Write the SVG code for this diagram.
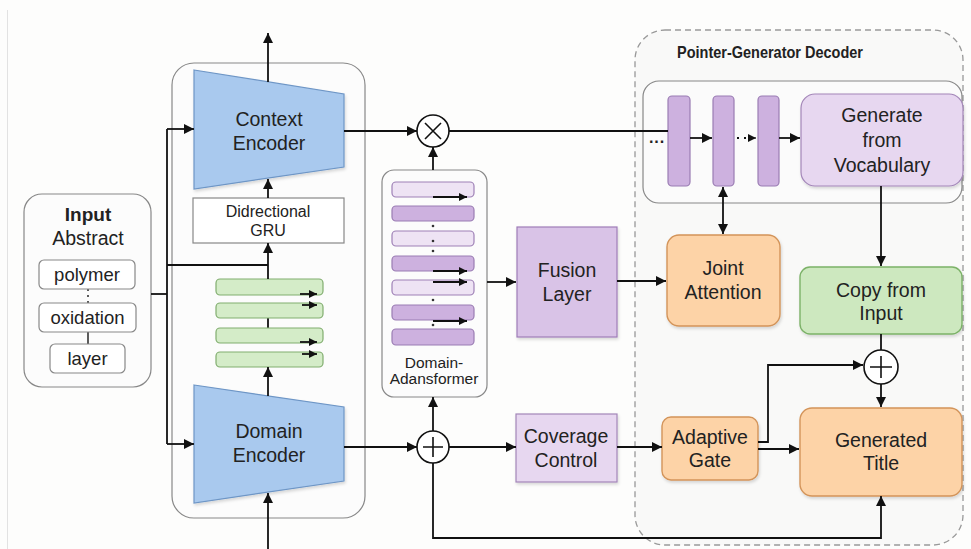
<svg xmlns="http://www.w3.org/2000/svg" width="971" height="549" viewBox="0 0 971 549">
  <defs>
    <marker id="arr" viewBox="0 0 10 10" refX="10" refY="5" markerWidth="10" markerHeight="10" markerUnits="userSpaceOnUse" orient="auto-start-reverse">
      <path d="M0,0 L10,5 L0,10 z" fill="#111"/>
    </marker>
    <marker id="arrSmall" viewBox="0 0 10 10" refX="10" refY="5" markerWidth="8" markerHeight="8" markerUnits="userSpaceOnUse" orient="auto">
      <path d="M0,0 L10,5 L0,10 z" fill="#111"/>
    </marker>
    <filter id="shadow" x="-10%" y="-10%" width="130%" height="130%">
      <feDropShadow dx="1" dy="2" stdDeviation="1.5" flood-color="#000" flood-opacity="0.15"/>
    </filter>
  </defs>
  <style>
    text { font-family: "Liberation Sans", Arial, Helvetica, sans-serif; fill: #222; text-anchor: middle; }
    .lbl { font-size: 19.5px; }
    .sm { font-size: 16px; }
    .xs { font-size: 15.5px; }
    .bold { font-weight: bold; }
    .wire { fill: none; stroke: #111; stroke-width: 1.8; }
    .arrow { fill: none; stroke: #111; stroke-width: 1.8; marker-end: url(#arr); }
    .container { fill: #fcfcfc; stroke: #888; stroke-width: 1.2; }
    .blue { fill: #a9c9ee; stroke: #6e96c6; stroke-width: 1.2; }
    .greenbar { fill: #d4ecc8; stroke: #80ad6e; stroke-width: 1.2; }
    .plight { fill: #eee3f4; stroke: #9e80b6; stroke-width: 1.2; }
    .pdark { fill: #cdb1df; stroke: #9a7cb3; stroke-width: 1.2; }
    .purple { fill: #d9c3e7; stroke: #9f7db8; stroke-width: 1.2; }
    .lavender { fill: #e7d7f0; stroke: #a386b8; stroke-width: 1.2; }
    .orange { fill: #fdd3a7; stroke: #d3945a; stroke-width: 1.4; }
    .green { fill: #cde8bf; stroke: #7cb268; stroke-width: 1.4; }
    .white { fill: #ffffff; stroke: #888; stroke-width: 1.2; }
    .op { fill: #fff; stroke: #111; stroke-width: 1.6; }
  </style>

  <!-- page background -->
  <rect x="0" y="0" width="971" height="549" fill="#fdfdfc"/>
  <line x1="7.5" y1="10" x2="7.5" y2="549" stroke="#e2e2e2" stroke-width="1"/>

  <!-- decoder frame -->
  <g id="decoder-frame">
    <rect x="635" y="30" width="328" height="515" rx="30" fill="#f9f9f8" stroke="#999" stroke-width="1.3" stroke-dasharray="6,4"/>
    <text x="770" y="58" class="bold" font-size="16.5" textLength="186" lengthAdjust="spacingAndGlyphs">Pointer-Generator Decoder</text>
  </g>

  <!-- encoder frame -->
  <g id="encoder-frame">
    <rect x="172" y="63" width="193" height="455" rx="22" class="container"/>
  </g>

  <!-- input -->
  <g id="input">
    <rect x="24" y="194" width="127" height="193" rx="18" class="container" fill="#fff"/>
    <text x="88" y="221" class="bold" font-size="19">Input</text>
    <text x="88" y="245" class="lbl" font-size="19.5">Abstract</text>
    <line x1="88" y1="289" x2="88" y2="303" stroke="#333" stroke-width="1.6" stroke-dasharray="2,4"/>
    <line x1="88" y1="332" x2="88" y2="344" stroke="#333" stroke-width="1.6"/>
    <rect x="39" y="260" width="96" height="29" rx="5" class="white"/>
    <text x="87" y="281" font-size="18.5">polymer</text>
    <rect x="39" y="303" width="97" height="29" rx="5" class="white"/>
    <text x="87.5" y="324" font-size="18.5">oxidation</text>
    <rect x="50" y="344" width="75" height="29" rx="5" class="white"/>
    <text x="87.5" y="365" font-size="18.5">layer</text>
  </g>

  <!-- context encoder -->
  <g id="context-encoder">
    <polygon points="194,70 344,94 344,167 194,189" class="blue" filter="url(#shadow)"/>
    <text x="269" y="126" class="lbl">Context</text>
    <text x="269" y="150" class="lbl">Encoder</text>
  </g>

  <!-- bidirectional GRU -->
  <g id="gru">
    <rect x="193" y="198" width="151" height="45" class="white"/>
    <text x="268" y="217" class="sm">Didrectional</text>
    <text x="268" y="236" class="sm">GRU</text>
  </g>

  <!-- green recurrent stack -->
  <g id="gru-stack">
    <line x1="268" y1="318" x2="268" y2="328" class="wire"/>
    <rect x="216" y="279" width="107" height="16" rx="4" class="greenbar"/>
    <rect x="216" y="303" width="107" height="15" rx="4" class="greenbar"/>
    <rect x="216" y="328" width="107" height="15" rx="4" class="greenbar"/>
    <rect x="216" y="352" width="107" height="15" rx="4" class="greenbar"/>
    <line x1="300" y1="294" x2="317" y2="294" class="wire" stroke-width="1.3" marker-end="url(#arrSmall)"/>
    <line x1="302" y1="305" x2="317" y2="305" class="wire" stroke-width="1.3" marker-end="url(#arrSmall)"/>
    <line x1="300" y1="342" x2="317" y2="342" class="wire" stroke-width="1.3" marker-end="url(#arrSmall)"/>
    <line x1="302" y1="354" x2="317" y2="354" class="wire" stroke-width="1.3" marker-end="url(#arrSmall)"/>
  </g>

  <!-- domain encoder -->
  <g id="domain-encoder">
    <polygon points="194,385 344,407 344,481 194,503" class="blue" filter="url(#shadow)"/>
    <text x="269" y="438" class="lbl">Domain</text>
    <text x="269" y="462" class="lbl">Encoder</text>
  </g>

  <!-- domain adapter stack -->
  <g id="domain-adansformer">
    <rect x="382" y="170" width="105" height="227" rx="12" class="container" fill="#fff"/>
    <rect x="392" y="182" width="82" height="15" rx="4" class="plight"/>
    <rect x="392" y="206" width="82" height="15" rx="4" class="pdark"/>
    <rect x="392" y="231" width="82" height="15" rx="4" class="plight"/>
    <rect x="392" y="256" width="82" height="15" rx="4" class="pdark"/>
    <rect x="392" y="280" width="82" height="15" rx="4" class="plight"/>
    <rect x="392" y="305" width="82" height="15" rx="4" class="pdark"/>
    <rect x="392" y="329" width="82" height="16" rx="4" class="pdark"/>
    <line x1="433" y1="197" x2="467" y2="197" class="wire" stroke-width="1.3" marker-end="url(#arrSmall)"/>
    <line x1="433" y1="271" x2="467" y2="271" class="wire" stroke-width="1.3" marker-end="url(#arrSmall)"/>
    <line x1="433" y1="282" x2="467" y2="282" class="wire" stroke-width="1.3" marker-end="url(#arrSmall)"/>
    <line x1="433" y1="321" x2="467" y2="321" class="wire" stroke-width="1.3" marker-end="url(#arrSmall)"/>
    <g fill="#333">
      <circle cx="433" cy="226" r="1.3"/>
      <circle cx="433" cy="241" r="1.3"/>
      <circle cx="433" cy="251" r="1.3"/>
      <circle cx="433" cy="300" r="1.3"/>
      <circle cx="433" cy="325" r="1.3"/>
    </g>
    <text x="434" y="368" class="xs">Domain-</text>
    <text x="434" y="384" class="xs">Adansformer</text>
  </g>

  <!-- fusion layer -->
  <g id="fusion-layer">
    <rect x="517" y="227" width="100" height="110" class="purple" filter="url(#shadow)"/>
    <text x="567" y="277" class="lbl">Fusion</text>
    <text x="567" y="301" class="lbl">Layer</text>
  </g>

  <!-- coverage control -->
  <g id="coverage-control">
    <rect x="516" y="414" width="101" height="68" class="lavender" filter="url(#shadow)"/>
    <text x="566" y="443" class="lbl">Coverage</text>
    <text x="566" y="467" class="lbl">Control</text>
  </g>

  <!-- decoder state chain -->
  <g id="decoder-chain">
    <rect x="643" y="81" width="319" height="122" rx="16" fill="#fbfbfb" stroke="#888" stroke-width="1.2"/>
    <text x="657" y="147" font-size="16" font-weight="bold">···</text>
    <rect x="668" y="96" width="22" height="90" rx="4" class="pdark"/>
    <rect x="713" y="96" width="21" height="90" rx="4" class="pdark"/>
    <rect x="758" y="96" width="21" height="90" rx="4" class="pdark"/>
  </g>

  <!-- generate from vocabulary -->
  <g id="generate-vocab">
    <rect x="801" y="94" width="162" height="92" rx="14" class="lavender" filter="url(#shadow)"/>
    <text x="882" y="122" class="lbl">Generate</text>
    <text x="882" y="147" class="lbl">from</text>
    <text x="882" y="172" class="lbl">Vocabulary</text>
  </g>

  <!-- joint attention -->
  <g id="joint-attention">
    <rect x="667" y="235" width="113" height="91" rx="12" class="orange" filter="url(#shadow)"/>
    <text x="723" y="275" class="lbl">Joint</text>
    <text x="723" y="299" class="lbl">Attention</text>
  </g>

  <!-- copy from input -->
  <g id="copy-input">
    <rect x="800" y="267" width="162" height="67" rx="10" class="green" filter="url(#shadow)"/>
    <text x="881" y="297" class="lbl">Copy from</text>
    <text x="881" y="320" class="lbl">Input</text>
  </g>

  <!-- adaptive gate -->
  <g id="adaptive-gate">
    <rect x="662" y="417" width="96" height="63" rx="9" class="orange" filter="url(#shadow)"/>
    <text x="710" y="444" class="lbl">Adaptive</text>
    <text x="710" y="467" class="lbl">Gate</text>
  </g>

  <!-- generated title -->
  <g id="generated-title">
    <rect x="800" y="408" width="162" height="88" rx="12" class="orange" filter="url(#shadow)"/>
    <text x="881" y="447" class="lbl">Generated</text>
    <text x="881" y="470" class="lbl">Title</text>
  </g>

  <!-- operators -->
  <g id="op-multiply">
    <circle cx="433" cy="131" r="16" class="op"/>
    <path d="M425,123 L441,139 M441,123 L425,139" stroke="#111" stroke-width="1.6"/>
  </g>
  <g id="op-add-domain">
    <circle cx="433" cy="447" r="16" class="op"/>
    <path d="M433,437 V457 M423,447 H443" stroke="#111" stroke-width="1.6"/>
  </g>
  <g id="op-add-output">
    <circle cx="881" cy="367" r="17" class="op"/>
    <path d="M881,356 V378 M870,367 H892" stroke="#111" stroke-width="1.6"/>
  </g>

  <!-- connectors -->
  <g id="connectors">
    <!-- input fan-out -->
    <path d="M151,294 H167" class="wire"/>
    <path d="M167,129 V444" class="wire"/>
    <path d="M167,129 H194" class="arrow"/>
    <path d="M167,444 H194" class="arrow"/>
    <path d="M167,265 H268" class="wire"/>
    <path d="M268,265 V243" class="arrow"/>
    <path d="M268,265 V279" class="wire"/>
    <!-- encoder column -->
    <path d="M268,198 V179" class="arrow"/>
    <path d="M268,82 V33" class="arrow"/>
    <path d="M268,396 V367" class="arrow"/>
    <path d="M268,549 V493" class="arrow"/>
    <!-- context path -->
    <path d="M344,131 H417" class="arrow"/>
    <path d="M449,131 H668" class="wire"/>
    <path d="M433,170 V147" class="arrow"/>
    <!-- domain path -->
    <path d="M344,447 H417" class="arrow"/>
    <path d="M433,431 V397" class="arrow"/>
    <path d="M449,447 H516" class="arrow"/>
    <path d="M433,463 V538 H881 V496" class="arrow"/>
    <path d="M617,447 H662" class="arrow"/>
    <!-- fusion path -->
    <path d="M487,282 H516" class="arrow"/>
    <path d="M617,281 H666" class="arrow"/>
    <!-- decoder -->
    <path d="M723,234 V187" class="arrow" marker-start="url(#arr)"/>
    <path d="M690,138 H712" class="arrow"/>
    <path d="M737,138 H752" stroke="#111" stroke-width="1.8" stroke-dasharray="2,5" fill="none"/>
    <path d="M749,138 H756" stroke="#111" stroke-width="1.2" marker-end="url(#arrSmall)"/>
    <path d="M779,138 H800" class="arrow"/>
    <path d="M881,186 V266" class="arrow"/>
    <path d="M881,334 V350" class="wire"/>
    <path d="M881,384 V407" class="arrow"/>
    <path d="M758,442 H768 V365 H863" class="arrow"/>
    <path d="M758,449 H799" class="arrow"/>
  </g>
</svg>
